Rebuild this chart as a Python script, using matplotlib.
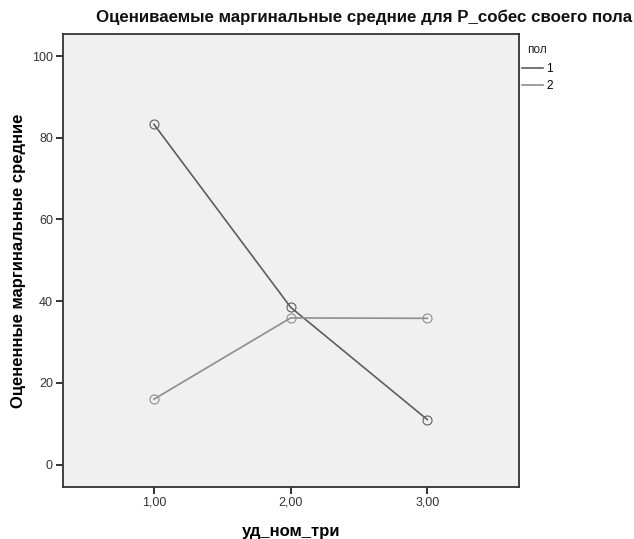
import matplotlib
matplotlib.use("Agg")
import matplotlib.pyplot as plt

plt.rcParams["font.family"] = ["Liberation Sans", "DejaVu Sans"]

# data
x_levels = [1.0, 2.0, 3.0]
x_labels = ["1,00", "2,00", "3,00"]
series_names = ["1", "2"]
means_1 = [83.3, 38.5, 11.0]
means_2 = [16.0, 35.9, 35.8]
y_ticks = [0, 20, 40, 60, 80, 100]

title = "Оцениваемые маргинальные средние для Р_собес своего пола"
y_title = "Оцененные маргинальные средние"
x_title = "уд_ном_три"
legend_title = "пол"

colors = ["#5e5e5e", "#8e8e8e"]
bg = "#f0f0f0"

fig = plt.figure(figsize=(6.34, 5.39), dpi=100)
ax = fig.add_axes([0.0989, 0.0965, 0.7197, 0.841])
ax.set_facecolor(bg)

for vals, name, c in zip([means_1, means_2], series_names, colors):
    ax.plot(x_levels, vals, color=c, lw=1.2, marker="o", ms=6.5,
            mfc="none", mec=c, mew=0.8, label=name)

ax.set_xlim(0.332, 3.671)
ax.set_ylim(-5.5, 105.5)
ax.set_xticks(x_levels)
ax.set_xticklabels(x_labels)
ax.set_yticks(y_ticks)
ax.tick_params(axis="both", direction="out", length=5, width=1.3,
               color="#222222", labelsize=9, labelcolor="#333333", pad=2)
for s in ax.spines.values():
    s.set_color("#333333")
    s.set_linewidth(1.3)

fig.text(364 / 634, 1 - 17 / 539, title, ha="center", va="center",
         fontsize=12.2, fontweight="bold", color="#111111")
ax.set_ylabel(y_title, fontsize=12, fontweight="bold", labelpad=4)
ax.set_xlabel(x_title, fontsize=12, fontweight="bold", labelpad=11)

fig.text(527 / 634, 1 - 50 / 539, legend_title, ha="left", va="center",
         fontsize=8.5, color="#222222")
leg = ax.legend(loc="upper left",
                bbox_to_anchor=(522 / 634, 1 - 63 / 539),
                bbox_transform=fig.transFigure, frameon=False,
                fontsize=8.5, handlelength=1.8,
                handletextpad=0.25, labelspacing=0.45, borderpad=0,
                borderaxespad=0)
for h in leg.get_lines():
    h.set_marker("")

fig.savefig("out.png", dpi=100, facecolor="white")
